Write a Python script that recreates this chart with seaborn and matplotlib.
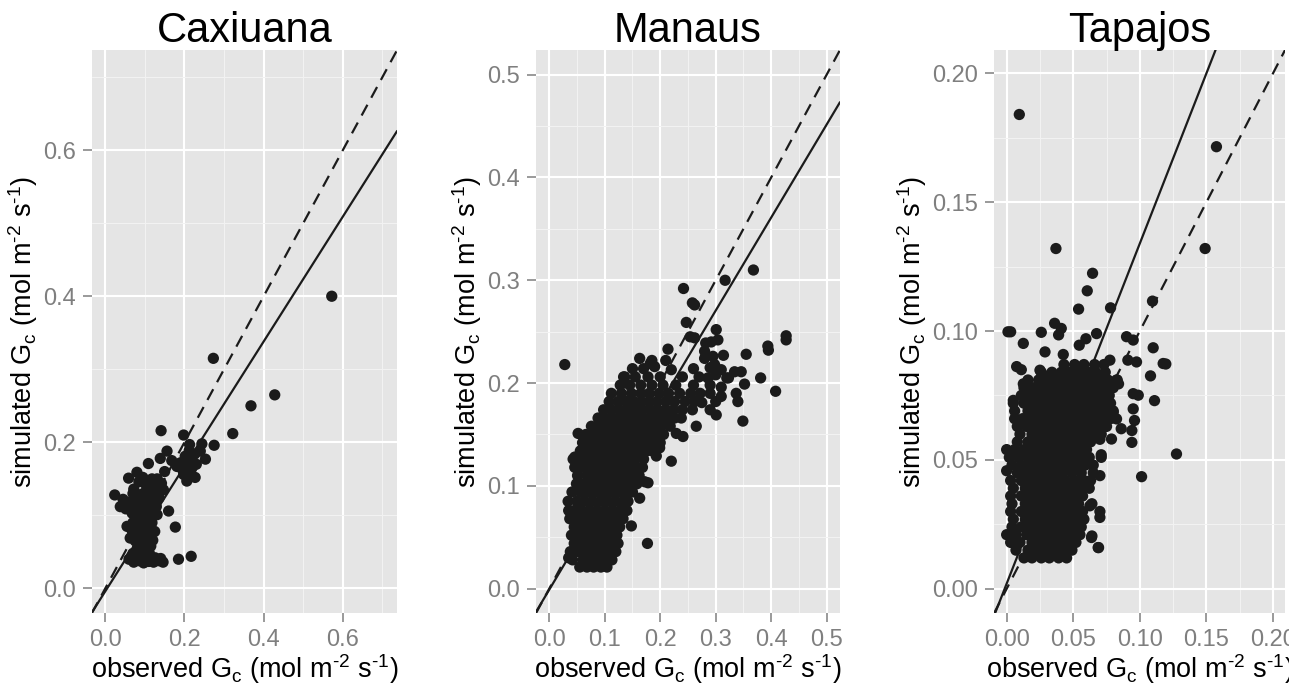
import numpy as np
import pandas as pd
import matplotlib
matplotlib.use("Agg")
import matplotlib.pyplot as plt
import seaborn as sns
from matplotlib.ticker import FixedLocator
from matplotlib.patches import Rectangle

# ---------------- data ----------------
sites = ["Caxiuana", "Manaus", "Tapajos"]

# Caxiuana: (observed, simulated)
caxiuana_points = [
    (0.572, 0.400), (0.428, 0.265), (0.368, 0.250), (0.322, 0.212), (0.273, 0.315), (0.275, 0.196),
    (0.141, 0.216), (0.198, 0.210), (0.244, 0.198), (0.213, 0.197), (0.240, 0.188), (0.253, 0.177),
    (0.156, 0.188), (0.139, 0.178), (0.109, 0.171), (0.168, 0.175), (0.181, 0.167), (0.202, 0.181),
    (0.206, 0.169), (0.219, 0.165), (0.198, 0.156), (0.206, 0.147), (0.227, 0.152), (0.215, 0.174),
    (0.195, 0.163), (0.211, 0.158), (0.226, 0.184), (0.190, 0.172), (0.230, 0.170), (0.212, 0.189),
    (0.080, 0.159), (0.059, 0.151), (0.024, 0.128), (0.038, 0.112), (0.052, 0.109), (0.072, 0.136),
    (0.101, 0.144), (0.126, 0.142), (0.147, 0.135), (0.160, 0.106), (0.177, 0.084), (0.055, 0.085),
    (0.063, 0.069), (0.185, 0.040), (0.217, 0.044), (0.045, 0.122), (0.062, 0.118), (0.068, 0.103),
    (0.095, 0.152), (0.118, 0.150), (0.150, 0.160),
    (0.085, 0.146), (0.105, 0.139), (0.124, 0.133), (0.092, 0.129), (0.112, 0.127), (0.136, 0.124),
    (0.080, 0.121), (0.100, 0.118), (0.121, 0.114), (0.090, 0.108), (0.110, 0.105), (0.131, 0.101),
    (0.078, 0.098), (0.099, 0.095), (0.118, 0.090), (0.086, 0.086), (0.106, 0.082), (0.125, 0.078),
    (0.091, 0.074), (0.111, 0.070), (0.076, 0.065), (0.097, 0.062), (0.115, 0.058), (0.081, 0.055),
    (0.101, 0.051), (0.070, 0.048), (0.090, 0.045),
    (0.060, 0.040), (0.072, 0.036), (0.085, 0.038), (0.097, 0.035), (0.110, 0.037), (0.122, 0.036),
    (0.135, 0.038), (0.146, 0.036), (0.066, 0.044), (0.103, 0.042), (0.126, 0.042), (0.140, 0.041),
    (0.070, 0.130), (0.075, 0.110), (0.070, 0.090), (0.068, 0.079), (0.085, 0.070), (0.100, 0.075),
    (0.120, 0.066), (0.106, 0.060), (0.086, 0.061), (0.095, 0.101), (0.115, 0.120), (0.129, 0.112),
    (0.100, 0.131), (0.114, 0.146), (0.131, 0.150), (0.142, 0.144), (0.110, 0.090), (0.098, 0.085),
    (0.122, 0.100), (0.088, 0.116), (0.078, 0.087), (0.118, 0.080), (0.092, 0.054), (0.111, 0.049),
]

# Manaus dense cloud, row by row: (simulated, [observed ...])
manaus_rows = [
    (0.021, [0.055, 0.068, 0.080, 0.093, 0.104]),
    (0.028, [0.042, 0.061, 0.074, 0.087, 0.100, 0.113]),
    (0.036, [0.038, 0.052, 0.066, 0.080, 0.094, 0.108, 0.120]),
    (0.044, [0.045, 0.058, 0.072, 0.086, 0.100, 0.113, 0.124]),
    (0.052, [0.040, 0.052, 0.066, 0.080, 0.094, 0.108, 0.122]),
    (0.060, [0.045, 0.059, 0.073, 0.087, 0.101, 0.115, 0.127]),
    (0.068, [0.037, 0.050, 0.064, 0.078, 0.092, 0.106, 0.120, 0.133]),
    (0.076, [0.035, 0.045, 0.058, 0.072, 0.086, 0.100, 0.114, 0.128, 0.140]),
    (0.085, [0.034, 0.050, 0.064, 0.078, 0.092, 0.106, 0.120, 0.134, 0.142]),
    (0.094, [0.041, 0.056, 0.070, 0.084, 0.098, 0.112, 0.126, 0.140, 0.150]),
    (0.102, [0.049, 0.062, 0.076, 0.090, 0.104, 0.118, 0.132, 0.146, 0.158]),
    (0.110, [0.051, 0.068, 0.082, 0.096, 0.110, 0.124, 0.138, 0.152, 0.162]),
    (0.118, [0.046, 0.061, 0.075, 0.089, 0.103, 0.117, 0.131, 0.145, 0.158, 0.168]),
    (0.126, [0.043, 0.056, 0.070, 0.084, 0.098, 0.112, 0.126, 0.140, 0.154, 0.170]),
    (0.134, [0.056, 0.064, 0.078, 0.092, 0.106, 0.120, 0.134, 0.148, 0.162, 0.176, 0.186]),
    (0.142, [0.060, 0.072, 0.086, 0.100, 0.114, 0.128, 0.142, 0.156, 0.170, 0.184, 0.200]),
    (0.150, [0.066, 0.080, 0.094, 0.108, 0.122, 0.136, 0.150, 0.164, 0.178, 0.192, 0.206]),
    (0.158, [0.076, 0.090, 0.104, 0.118, 0.132, 0.146, 0.160, 0.174, 0.188, 0.202, 0.218]),
    (0.166, [0.088, 0.100, 0.114, 0.128, 0.142, 0.156, 0.170, 0.184, 0.198, 0.212, 0.226, 0.238]),
    (0.174, [0.098, 0.112, 0.126, 0.140, 0.154, 0.168, 0.182, 0.196, 0.210, 0.224, 0.240, 0.258]),
    (0.182, [0.108, 0.124, 0.138, 0.152, 0.166, 0.180, 0.194, 0.210, 0.226, 0.245, 0.262]),
    (0.190, [0.112, 0.130, 0.148, 0.165, 0.180, 0.198, 0.215, 0.235, 0.255, 0.272]),
    (0.198, [0.128, 0.145, 0.165, 0.185, 0.205, 0.228]),
    (0.206, [0.134, 0.155, 0.178, 0.200]),
]
manaus_points = [
    (0.028, 0.218), (0.052, 0.151), (0.046, 0.128), (0.035, 0.030), (0.177, 0.044), (0.148, 0.061),
    (0.172, 0.104), (0.163, 0.088), (0.178, 0.103), (0.220, 0.124), (0.193, 0.129), (0.199, 0.137),
    (0.229, 0.151), (0.241, 0.148), (0.265, 0.158), (0.301, 0.169), (0.349, 0.163), (0.408, 0.192),
    (0.381, 0.205), (0.352, 0.199), (0.337, 0.190), (0.340, 0.182), (0.334, 0.211), (0.346, 0.211),
    (0.355, 0.228), (0.394, 0.236), (0.395, 0.232), (0.427, 0.246), (0.427, 0.242), (0.314, 0.227),
    (0.280, 0.224), (0.295, 0.226), (0.163, 0.224), (0.182, 0.219), (0.214, 0.233), (0.282, 0.239),
    (0.292, 0.240), (0.304, 0.242), (0.254, 0.245), (0.262, 0.244), (0.301, 0.252), (0.247, 0.259),
    (0.258, 0.278), (0.262, 0.276), (0.242, 0.292), (0.317, 0.300), (0.368, 0.310), (0.136, 0.206),
    (0.290, 0.174), (0.300, 0.182), (0.260, 0.198), (0.290, 0.198), (0.310, 0.196), (0.240, 0.206),
    (0.270, 0.206), (0.300, 0.208), (0.320, 0.205), (0.150, 0.214), (0.170, 0.214), (0.190, 0.216),
    (0.220, 0.213), (0.260, 0.214), (0.290, 0.215), (0.310, 0.213), (0.185, 0.222), (0.210, 0.222),
    (0.280, 0.231), (0.298, 0.218), (0.323, 0.205), (0.290, 0.190), (0.310, 0.187), (0.275, 0.181),
    (0.286, 0.205),
]

# Tapajos dense cloud, row by row: (simulated, [observed ...])
tapajos_rows = [
    (0.012, [0.013, 0.019, 0.026, 0.032, 0.039, 0.045]),
    (0.015, [0.007, 0.016, 0.022, 0.029, 0.035, 0.042, 0.049]),
    (0.018, [0.003, 0.010, 0.019, 0.026, 0.032, 0.039, 0.045, 0.052]),
    (0.021, [0.000, 0.007, 0.015, 0.022, 0.029, 0.035, 0.042, 0.049, 0.055]),
    (0.024, [0.004, 0.011, 0.018, 0.025, 0.032, 0.038, 0.045, 0.051, 0.056]),
    (0.027, [0.005, 0.014, 0.021, 0.028, 0.035, 0.041, 0.048, 0.054, 0.058]),
    (0.030, [0.003, 0.011, 0.018, 0.025, 0.031, 0.038, 0.044, 0.051, 0.057]),
    (0.033, [0.004, 0.014, 0.021, 0.028, 0.035, 0.041, 0.048, 0.054]),
    (0.036, [0.003, 0.011, 0.018, 0.025, 0.031, 0.038, 0.044, 0.051, 0.057]),
    (0.039, [0.005, 0.014, 0.021, 0.028, 0.035, 0.041, 0.048, 0.055, 0.062]),
    (0.042, [0.003, 0.011, 0.018, 0.025, 0.031, 0.038, 0.044, 0.051, 0.058, 0.063]),
    (0.045, [0.008, 0.015, 0.022, 0.029, 0.035, 0.042, 0.049, 0.056, 0.065]),
    (0.048, [0.004, 0.011, 0.018, 0.025, 0.032, 0.038, 0.045, 0.052, 0.059, 0.065]),
    (0.051, [0.002, 0.009, 0.016, 0.022, 0.029, 0.036, 0.042, 0.049, 0.056, 0.062]),
    (0.054, [0.000, 0.006, 0.013, 0.020, 0.026, 0.033, 0.040, 0.046, 0.053, 0.060]),
    (0.057, [0.008, 0.016, 0.023, 0.029, 0.036, 0.043, 0.049, 0.056, 0.063]),
    (0.060, [0.010, 0.019, 0.026, 0.033, 0.039, 0.046, 0.053, 0.059, 0.066, 0.071]),
    (0.063, [0.008, 0.015, 0.022, 0.029, 0.036, 0.042, 0.049, 0.056, 0.062, 0.069, 0.075]),
    (0.066, [0.006, 0.012, 0.019, 0.026, 0.033, 0.039, 0.046, 0.053, 0.059, 0.066, 0.072, 0.078]),
    (0.069, [0.006, 0.016, 0.023, 0.029, 0.036, 0.043, 0.049, 0.056, 0.063, 0.069, 0.075, 0.080]),
    (0.072, [0.005, 0.013, 0.020, 0.026, 0.033, 0.040, 0.046, 0.053, 0.060, 0.066, 0.073, 0.078]),
    (0.075, [0.011, 0.017, 0.023, 0.030, 0.036, 0.043, 0.050, 0.056, 0.063, 0.070, 0.077]),
    (0.078, [0.013, 0.020, 0.027, 0.033, 0.040, 0.047, 0.053, 0.060, 0.067, 0.073, 0.080]),
    (0.081, [0.016, 0.024, 0.030, 0.037, 0.044, 0.050, 0.057, 0.064, 0.070, 0.076, 0.083]),
    (0.084, [0.026, 0.034, 0.041, 0.047, 0.054, 0.061, 0.067, 0.074]),
    (0.087, [0.043, 0.051, 0.058, 0.066, 0.073]),
]
tapajos_points = [
    (0.0095, 0.184), (0.1575, 0.1715), (0.149, 0.132), (0.037, 0.132), (0.0645, 0.1224), (0.0605, 0.1156),
    (0.054, 0.1085), (0.078, 0.109), (0.1095, 0.1116), (0.001, 0.0997), (0.003, 0.0997), (0.026, 0.0995),
    (0.036, 0.103), (0.041, 0.101), (0.039, 0.0985), (0.0125, 0.0952), (0.0288, 0.0919), (0.0425, 0.0909),
    (0.0545, 0.0945), (0.0595, 0.097), (0.0675, 0.099), (0.090, 0.0978), (0.095, 0.0965), (0.110, 0.0935),
    (0.1175, 0.0874), (0.1195, 0.0872), (0.0775, 0.0887), (0.091, 0.0887), (0.0975, 0.088), (0.108, 0.0826),
    (0.095, 0.0757), (0.0988, 0.0751), (0.111, 0.073), (0.095, 0.0698), (0.096, 0.0653), (0.086, 0.0621),
    (0.094, 0.0614), (0.094, 0.0568), (0.1275, 0.0523), (0.1013, 0.0435), (0.0075, 0.0862), (0.011, 0.085),
    (0.025, 0.0848), (0.0275, 0.0828), (0.0125, 0.0795), (0.005, 0.0731), (0.000, 0.0458), (0.0687, 0.016),
    (0.0637, 0.0199), (0.0625, 0.0322), (0.0700, 0.0277), (0.070, 0.0439), (0.071, 0.0510), (0.0787, 0.0581),
    (0.0825, 0.081), (0.084, 0.0795), (0.080, 0.0685), (0.0825, 0.0659), (0.069, 0.016), (0.064, 0.0205),
    (0.070, 0.030), (0.064, 0.033), (0.071, 0.052), (0.070, 0.058),
]

# fitted (solid) lines: simulated = slope * observed + intercept
fit_slope = [0.855, 0.905, 1.32]
fit_intercept = [-0.004, -0.001, 0.002]

# axis scales
axis_limits = [(-0.034, 0.737), (-0.024, 0.524), (-0.0095, 0.209)]
major_ticks = [[0.0, 0.2, 0.4, 0.6],
               [0.0, 0.1, 0.2, 0.3, 0.4, 0.5],
               [0.00, 0.05, 0.10, 0.15, 0.20]]
tick_labels = [["0.0", "0.2", "0.4", "0.6"],
               ["0.0", "0.1", "0.2", "0.3", "0.4", "0.5"],
               ["0.00", "0.05", "0.10", "0.15", "0.20"]]
minor_ticks = [[0.1, 0.3, 0.5, 0.7],
               [0.05, 0.15, 0.25, 0.35, 0.45],
               [0.025, 0.075, 0.125, 0.175]]

x_label = r"observed G$_\mathregular{c}$ (mol m$^\mathregular{‐2}$ s$^\mathregular{‐1}$)"
y_label = r"simulated G$_\mathregular{c}$ (mol m$^\mathregular{‐2}$ s$^\mathregular{‐1}$)"


def build_frame(site, rows, points):
    obs, sim = [], []
    for y, xs in rows:
        for x in xs:
            obs.append(x)
            sim.append(y)
    for x, y in points:
        obs.append(x)
        sim.append(y)
    return pd.DataFrame({"site": site, "observed": obs, "simulated": sim})


df = pd.concat([
    build_frame("Caxiuana", [], caxiuana_points),
    build_frame("Manaus", manaus_rows, manaus_points),
    build_frame("Tapajos", tapajos_rows, tapajos_points),
], ignore_index=True)

# ---------------- style ----------------
sns.set_style("darkgrid", {"axes.facecolor": "#E5E5E5", "grid.color": "white"})
plt.rcParams["font.family"] = ["Liberation Sans", "DejaVu Sans"]
plt.rcParams["mathtext.fontset"] = "custom"
plt.rcParams["mathtext.rm"] = "Liberation Sans"
plt.rcParams["mathtext.it"] = "Liberation Sans:italic"
plt.rcParams["mathtext.bf"] = "Liberation Sans:bold"

fig = plt.figure(figsize=(13.11, 6.93), dpi=100)
fig.patch.set_facecolor("white")

bottom = 0.1150
height = 0.8128
positions = [
    [0.0700, bottom, 0.2329, height],
    [0.4088, bottom, 0.2319, height],
    [0.7582, bottom, 0.2220, height],
]

point_color = "#1b1b1b"
tick_gray = "#7f7f7f"

for i, site in enumerate(sites):
    ax = fig.add_axes(positions[i])
    ax.set_facecolor("#E5E5E5")
    sub = df[df["site"] == site]

    ax.axline((0, 0), slope=1, color=point_color, lw=1.6,
              linestyle=(0, (5.5, 3.6)), zorder=3)
    ax.axline((0, fit_intercept[i]), slope=fit_slope[i], color=point_color,
              lw=1.6, zorder=3)

    sns.scatterplot(data=sub, x="observed", y="simulated", ax=ax,
                    color=point_color, s=66, linewidth=0, edgecolor="none",
                    zorder=2, legend=False)

    lo, hi = axis_limits[i]
    ax.set_xlim(lo, hi)
    ax.set_ylim(lo, hi)
    ax.xaxis.set_major_locator(FixedLocator(major_ticks[i]))
    ax.yaxis.set_major_locator(FixedLocator(major_ticks[i]))
    ax.set_xticklabels(tick_labels[i])
    ax.set_yticklabels(tick_labels[i])
    ax.xaxis.set_minor_locator(FixedLocator(minor_ticks[i]))
    ax.yaxis.set_minor_locator(FixedLocator(minor_ticks[i]))

    ax.grid(which="major", color="white", linewidth=1.5)
    ax.grid(which="minor", color="#F3F3F3", linewidth=0.7)
    ax.set_axisbelow(True)
    for sp in ax.spines.values():
        sp.set_visible(False)

    ax.tick_params(which="major", length=6.5, width=1.1, color=tick_gray,
                   labelcolor=tick_gray, labelsize=17, pad=5,
                   bottom=True, left=True)
    ax.tick_params(which="minor", length=0, bottom=False, left=False)

    ax.set_xlabel(x_label, fontsize=19.5, labelpad=1, color="black")
    ax.set_ylabel(y_label, fontsize=19.5, labelpad=2, color="black")
    ax.set_title(site, fontsize=30, pad=6, color="black")

# the reference image is cropped at its right margin
fig.add_artist(Rectangle((1289 / 1311, 0), 1 - 1289 / 1311, 1,
                         transform=fig.transFigure, facecolor="white",
                         edgecolor="none", zorder=10))

fig.savefig("out.png", dpi=100)
